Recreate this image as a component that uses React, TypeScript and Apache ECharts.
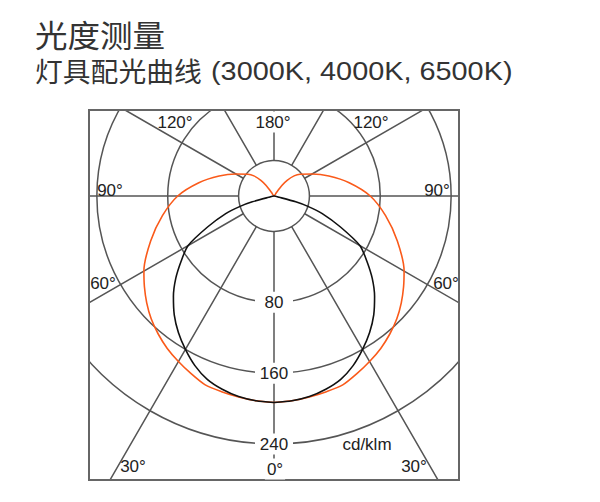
import * as echarts from "echarts";
import { useEffect, useRef } from "react";

const TITLE = "光度测量";
const SUBTITLE_CJK = "灯具配光曲线";
const SUBTITLE_LATIN = "(3000K, 4000K, 6500K)";
const UNIT_LABEL = "cd/klm";

/** 半剖面读数：角度（°，0 = 正下方）与光强（cd/klm）；另一半按左右对称镜像。 */
const ORANGE_ANGLES = [0, 5, 10, 15, 20, 25, 30, 35, 40, 45, 50, 55, 60, 70, 80, 90, 100, 110, 120, 130, 135, 140, 143, 145];
const ORANGE_VALUES = [193.2, 192.1, 190.4, 188.7, 187.0, 181.4, 175.8, 170.1, 163.4, 156.1, 147.6, 138.6, 129.6, 108.2, 87.9, 68.7, 46.2, 25.9, 9.6, -1.7, -7.9, -16.9, -24.8, -34.9];
const BLACK_ANGLES = [0, 5, 10, 15, 20, 25, 30, 35, 40, 45, 50, 55, 60, 65, 70, 73, 75, 76.5];
const BLACK_VALUES = [193.2, 192.1, 189.9, 185.9, 180.3, 171.3, 160.0, 148.2, 135.2, 120.6, 104.8, 87.9, 72.1, 42.8, 18.0, 0, -14.6, -33.8];

/** 圆心处的读数：刻度 0 落在内圈上，圆心低于 0。 */
const CENTER_VALUE = -40;
const RADIUS_MAX = 240;
const RADIUS_STEP = 40;
/** 画圈的半径刻度（0 只画圈不标字）与标注的刻度。 */
const RADIUS_CIRCLES = [0, 80, 160, 240];
const RADIUS_LABELS = [80, 160, 240];
const ANGLE_INTERVAL = 30;

/** 角度刻度文字（画在方框边缘，不走 angleAxis 自带标签）。 */
const ANGLE_TICK_LABELS = ["0°", "30°", "60°", "90°", "120°", "180°"];

const CENTER: [number, number] = [274, 196];
const OUTER_R = 248;
const SPOKE_INNER_R = 35;
const SPOKE_OUTER_R = 340;
const BOX = { x: 89, y: 110, width: 370, height: 370 };

const GRID_COLOR = "#555555";
const TEXT_COLOR = "#222222";
const TITLE_COLOR = "#333333";
const ORANGE = "#fa5a1a";
const BLACK = "#111111";
const LATIN_FONT = "'Liberation Sans', Arial, sans-serif";
const CJK_FONT = "'Noto Sans CJK SC', sans-serif";

/** 标签摆放：[ANGLE_TICK_LABELS 下标, x, y, 是否白底]。 */
const ANGLE_LABEL_LAYOUT: [number, number, number, boolean][] = [
  [5, 273, 122, true],
  [4, 175, 122, false],
  [4, 371, 122, false],
  [3, 110, 190, false],
  [3, 437, 190, false],
  [2, 103, 283, false],
  [2, 446, 283, false],
  [1, 133, 466, false],
  [1, 414, 466, false],
  [0, 275, 469, true],
];

function mirrorProfile(angles: number[], values: number[]): [number, number][] {
  const half = angles.map((a, i) => [values[i], a] as [number, number]);
  const other = angles.map((a, i) => [values[i], 360 - a] as [number, number]).reverse();
  return [...half, [CENTER_VALUE, 180], ...other];
}

function headText(text: string, x: number, y: number, size: number, font: string, scaleX = 1) {
  return {
    type: "text" as const,
    z: 102,
    silent: true,
    x,
    y,
    scaleX,
    style: {
      text,
      align: "left",
      verticalAlign: "middle",
      fill: TITLE_COLOR,
      font: `${size}px ${font}`,
      lineHeight: size,
    },
  };
}

function buildOption(): echarts.EChartsOption {
  const hiddenAngle = {
    type: "value" as const,
    min: 0,
    max: 360,
    interval: ANGLE_INTERVAL,
    startAngle: 270,
    axisLine: { show: false },
    axisTick: { show: false },
    axisLabel: { show: false },
  };

  // 半径刻度每 40 一档，只让 RADIUS_CIRCLES 那几档的圈可见（颜色数组按刻度顺序循环）。
  const circleColors: string[] = [];
  for (let v = CENTER_VALUE; v <= RADIUS_MAX; v += RADIUS_STEP) {
    circleColors.push(RADIUS_CIRCLES.includes(v) ? GRID_COLOR : "rgba(0,0,0,0)");
  }

  // 方框外侧白色遮罩：极坐标圈/辐条超出方框的部分被盖住。
  const masks = [
    { x: 0, y: 0, width: 600, height: BOX.y },
    { x: 0, y: BOX.y + BOX.height, width: 600, height: 502 - BOX.y - BOX.height },
    { x: 0, y: 0, width: BOX.x, height: 502 },
    { x: BOX.x + BOX.width, y: 0, width: 600 - BOX.x - BOX.width, height: 502 },
  ].map((shape) => ({
    type: "rect" as const,
    z: 100,
    silent: true,
    shape,
    style: { fill: "#ffffff" },
  }));

  const angleLabels = ANGLE_LABEL_LAYOUT.map(([idx, x, y, bg]) => ({
    type: "text" as const,
    z: 102,
    silent: true,
    x,
    y,
    style: {
      text: ANGLE_TICK_LABELS[idx],
      align: "center",
      verticalAlign: "middle",
      fill: TEXT_COLOR,
      font: `17px ${LATIN_FONT}`,
      backgroundColor: bg ? "#ffffff" : undefined,
      padding: bg ? [2, 2] : 0,
    },
  }));

  const curve = (angles: number[], values: number[], color: string, z: number) => ({
    type: "line" as const,
    coordinateSystem: "polar",
    polarIndex: 0,
    data: mirrorProfile(angles, values),
    symbol: "none",
    smooth: 0.25,
    clip: false,
    silent: true,
    z,
    lineStyle: { color, width: 1.6 },
  });

  return {
    animation: false,
    polar: [
      { center: CENTER, radius: [0, OUTER_R] },
      { center: CENTER, radius: [SPOKE_INNER_R, SPOKE_OUTER_R] },
    ],
    angleAxis: [
      { ...hiddenAngle, polarIndex: 0, splitLine: { show: false } },
      {
        ...hiddenAngle,
        polarIndex: 1,
        z: 1,
        splitLine: { show: true, lineStyle: { color: GRID_COLOR, width: 1.5 } },
      },
    ],
    radiusAxis: [
      {
        polarIndex: 0,
        type: "value",
        min: CENTER_VALUE,
        max: RADIUS_MAX,
        interval: RADIUS_STEP,
        z: 10,
        axisLine: { show: false },
        axisTick: { show: false },
        splitLine: { show: true, lineStyle: { color: circleColors, width: 1.5 } },
        axisLabel: {
          margin: 0,
          align: "center",
          verticalAlign: "middle",
          formatter: (v: number) => (RADIUS_LABELS.includes(v) ? `{b|${v}}` : ""),
          rich: {
            b: {
              color: TEXT_COLOR,
              fontSize: 17,
              fontFamily: LATIN_FONT,
              backgroundColor: "#ffffff",
              padding: [2, 4],
              width: 30,
              align: "center",
            },
          },
        },
      },
      { polarIndex: 1, type: "value", min: 0, max: RADIUS_MAX, show: false },
    ],
    series: [curve(ORANGE_ANGLES, ORANGE_VALUES, ORANGE, 20), curve(BLACK_ANGLES, BLACK_VALUES, BLACK, 21)],
    graphic: [
      ...masks,
      {
        type: "rect",
        z: 101,
        silent: true,
        shape: { ...BOX },
        style: { fill: "none", stroke: "#666666", lineWidth: 2 },
      },
      ...angleLabels,
      {
        type: "text",
        z: 102,
        silent: true,
        x: 367,
        y: 444,
        style: {
          text: UNIT_LABEL,
          align: "center",
          verticalAlign: "middle",
          fill: TEXT_COLOR,
          font: `17px ${LATIN_FONT}`,
        },
      },
      headText(TITLE, 35, 33, 31, CJK_FONT, 1.05),
      headText(SUBTITLE_CJK, 35, 70, 27, CJK_FONT, 1.03),
      headText(SUBTITLE_LATIN, 211, 71, 26, LATIN_FONT, 1.11),
    ],
  } as echarts.EChartsOption;
}

export default function App() {
  const chartRef = useRef<HTMLDivElement | null>(null);

  useEffect(() => {
    const el = chartRef.current;
    if (!el) {
      return undefined;
    }
    const chart = echarts.init(el, undefined, { renderer: "svg" });
    chart.setOption(buildOption());
    return () => {
      chart.dispose();
    };
  }, []);

  return (
    <div
      ref={chartRef}
      style={{ position: "absolute", left: 0, top: 0, width: 600, height: 502, background: "#ffffff" }}
    />
  );
}
